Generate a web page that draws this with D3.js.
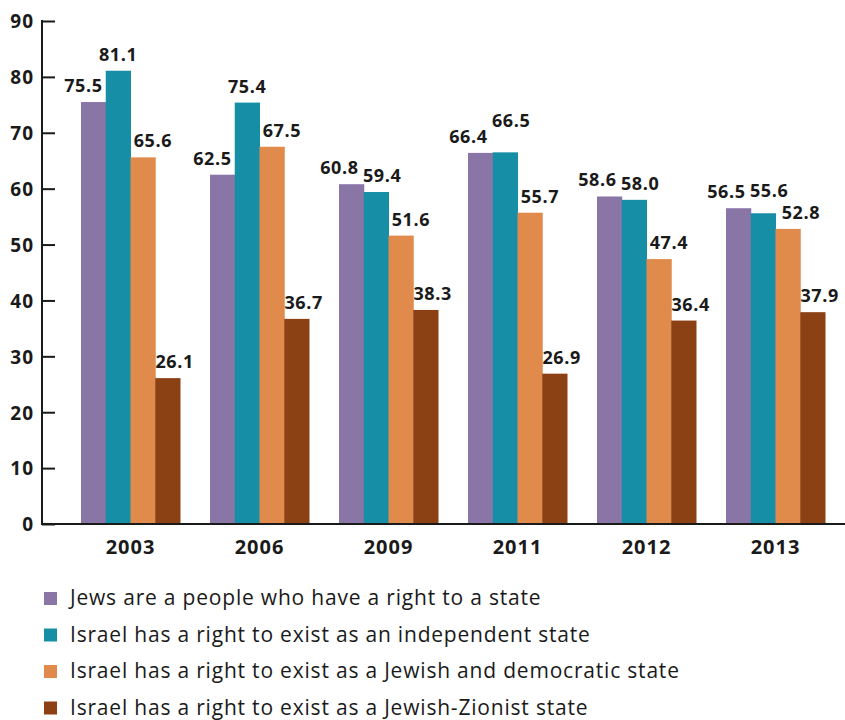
<!DOCTYPE html>
<html>
<head>
<meta charset="utf-8">
<script src="https://cdn.jsdelivr.net/npm/d3@7"></script>
<style>
  body { margin: 0; background: #fff; }
  svg text { font-family: "Open Sans", sans-serif; fill: #1a1a1a; }
</style>
</head>
<body>
<div id="chart"></div>
<script>
// data
var years = ["2003", "2006", "2009", "2011", "2012", "2013"];
var seriesNames = [
  "Jews are a people who have a right to a state",
  "Israel has a right to exist as an independent state",
  "Israel has a right to exist as a Jewish and democratic state",
  "Israel has a right to exist as a Jewish-Zionist state"
];
var peopleRight = [75.5, 62.5, 60.8, 66.4, 58.6, 56.5];
var independent = [81.1, 75.4, 59.4, 66.5, 58.0, 55.6];
var democratic = [65.6, 67.5, 51.6, 55.7, 47.4, 52.8];
var zionist = [26.1, 36.7, 38.3, 26.9, 36.4, 37.9];
var yTicks = [0, 10, 20, 30, 40, 50, 60, 70, 80, 90];

var allSeries = [peopleRight, independent, democratic, zionist];
var colors = ["#8a75a7", "#168fa6", "#e08a4c", "#8b4113"];
// label nudges per series (the original labels sit a bit off-centre)
var labelShift = [-10, 0, 10, 7];

var svgWidth = 845;
var svgHeight = 720;

var svg = d3
  .select("#chart")
  .append("svg")
  .attr("width", svgWidth)
  .attr("height", svgHeight);

var axisX = 42;
var x0 = d3.scaleBand()
  .domain(years)
  .range([66, 840])
  .paddingInner(0.2326)
  .paddingOuter(0.1163);

var x1 = d3.scaleBand()
  .domain(d3.range(allSeries.length))
  .range([0, x0.bandwidth()]);

var y = d3.scaleLinear().domain([0, 90]).range([524, 21]);

// bars
var groups = svg.selectAll("g.year")
  .data(years)
  .enter()
  .append("g")
  .attr("class", "year")
  .attr("transform", (d) => `translate(${x0(d)},0)`);

groups.selectAll("rect")
  .data((d, i) => allSeries.map((s, k) => ({ k: k, v: s[i] })))
  .enter()
  .append("rect")
  .attr("x", (d) => x1(d.k))
  .attr("width", x1.bandwidth() + 0.5)
  .attr("y", (d) => y(d.v))
  .attr("height", (d) => y(0) - y(d.v))
  .attr("fill", (d) => colors[d.k]);

// simple collision handling between neighbouring value labels
function near(a, b, lim) {
  return Math.abs(a - b) < lim;
}
function labelDx(d) {
  var dx = labelShift[d.k];
  if (d.k === 0 && near(peopleRight[d.i], independent[d.i], 3)) dx -= 2;
  if (d.k === 1 && near(peopleRight[d.i], independent[d.i], 3)) dx += 6;
  if (d.k === 2 && near(independent[d.i], democratic[d.i], 4)) dx += 3;
  return dx;
}
function labelLift(d) {
  if (d.k !== 1) return 0;
  if (near(peopleRight[d.i], independent[d.i], 0.3)) return 15;
  if (near(independent[d.i], democratic[d.i], 4)) return 6;
  return 0;
}

groups.selectAll("text.val")
  .data((d, i) => allSeries.map((s, k) => ({ k: k, v: s[i], i: i })))
  .enter()
  .append("text")
  .attr("class", "val")
  .attr("x", (d) => x1(d.k) + x1.bandwidth() / 2 + labelDx(d))
  .attr("y", (d) => y(d.v) - 10 - labelLift(d))
  .attr("text-anchor", "middle")
  .style("font-size", "18px")
  .style("font-weight", "700")
  .style("letter-spacing", "0.6px")
  .text((d) => d.v.toFixed(1));

// y axis
var leftAxis = d3.axisRight(y).tickValues(yTicks).tickSize(13).tickFormat(d3.format("d"));
var yAxis = svg.append("g")
  .attr("transform", `translate(${axisX},0)`)
  .call(leftAxis);
yAxis.select(".domain").remove();
yAxis.selectAll("line").attr("stroke", "#1a1a1a").attr("stroke-width", 2);
yAxis.selectAll("text")
  .attr("x", -8)
  .attr("dy", "0.36em")
  .attr("text-anchor", "end")
  .style("font-size", "19px")
  .style("font-weight", "700")
  .style("letter-spacing", "1px");

svg.append("line")
  .attr("x1", axisX).attr("x2", axisX)
  .attr("y1", y(90) - 1).attr("y2", y(0) + 1)
  .attr("stroke", "#1a1a1a").attr("stroke-width", 2);

// x axis
svg.append("line")
  .attr("x1", axisX - 1).attr("x2", svgWidth)
  .attr("y1", y(0)).attr("y2", y(0))
  .attr("stroke", "#1a1a1a").attr("stroke-width", 2);

var bottomAxis = d3.axisBottom(x0).tickSize(0);
var xAxis = svg.append("g")
  .attr("transform", `translate(0,${y(0)})`)
  .call(bottomAxis);
xAxis.select(".domain").remove();
xAxis.selectAll("text")
  .attr("y", 30)
  .attr("dy", 0)
  .style("font-size", "20px")
  .style("font-weight", "700")
  .style("letter-spacing", "1px");

// legend
var legend = svg.selectAll("g.legend")
  .data(seriesNames)
  .enter()
  .append("g")
  .attr("class", "legend")
  .attr("transform", (d, i) => `translate(44,${605 + i * 36.5})`);

legend.append("rect")
  .attr("x", 0)
  .attr("y", -13)
  .attr("width", 13)
  .attr("height", 13)
  .attr("fill", (d, i) => colors[i]);

legend.append("text")
  .attr("x", 26)
  .attr("y", 0)
  .style("font-size", "21px")
  .style("letter-spacing", "0.8px")
  .text((d) => d);
</script>
</body>
</html>
